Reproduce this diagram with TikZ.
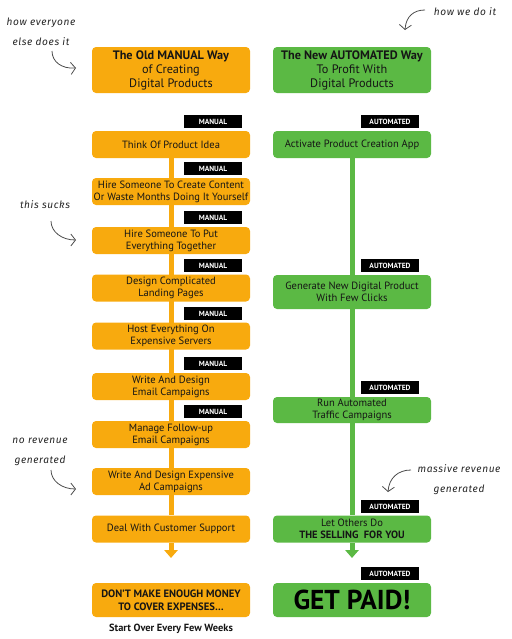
\documentclass[tikz,border=0pt]{standalone}
\usepackage{fontspec}
\setmainfont{PT Sans}
\newfontfamily\handfont[LetterSpace=6]{Fira Sans}
\usetikzlibrary{arrows.meta,backgrounds}

\definecolor{oldorange}{HTML}{F8AA0E}
\definecolor{newgreen}{HTML}{5BB944}
\definecolor{boxtext}{HTML}{151515}

\tikzset{
  oldbox/.style={fill=oldorange, rounded corners=3pt, minimum width=118.5pt,
    minimum height=20.25pt, align=center, text=boxtext, inner sep=1pt,
    font=\fontsize{7.9}{9}\selectfont},
  newbox/.style={oldbox, fill=newgreen},
  tagbox/.style={fill=black, text=white, anchor=south east, inner sep=0pt,
    minimum width=43.5pt, minimum height=9.8pt,
    font=\bfseries\fontsize{5.6}{6}\selectfont},
  oldflow/.style={draw=oldorange, line width=3.75pt},
  newflow/.style={oldflow, draw=newgreen},
  flowtip/.style={-{Triangle[length=6pt,width=10pt]}},
  handnote/.style={font=\handfont\itshape\fontsize{7.6}{15}\selectfont,
    text=black!85, align=center},
  handarrow/.style={draw=black!70, line width=0.6pt,
    -{Straight Barb[length=3.5pt,width=9pt]}},
}

\begin{document}
\begin{tikzpicture}[x=0.75pt,y=-0.75pt]

\useasboundingbox (0,0) rectangle (511,639);

% the old way
\node[oldbox, minimum height=34.5pt, font=\fontsize{9.2}{10.5}\selectfont] (oldtitle) at (171,70)
{\textbf{The Old MANUAL Way}\\of Creating\\Digital Products};

\node[oldbox] (think) at (171,144.5) {Think Of Product Idea};
\node[oldbox] (content) at (171,191.5) {Hire Someone To Create Content\\Or Waste Months Doing It Yourself};
\node[oldbox] (together) at (171,240.5) {Hire Someone To Put\\Everything Together};
\node[oldbox] (landing) at (171,288) {Design Complicated\\Landing Pages};
\node[oldbox] (host) at (171,336) {Host Everything On\\Expensive Servers};
\node[oldbox] (email) at (171,386.5) {Write And Design\\Email Campaigns};
\node[oldbox] (follow) at (171,434.5) {Manage Follow-up\\Email Campaigns};
\node[oldbox] (adcamp) at (171,481.5) {Write And Design Expensive\\Ad Campaigns};
\node[oldbox] (support) at (171,529) {Deal With Customer Support};

\node[oldbox, minimum height=25.5pt, font=\bfseries\fontsize{8}{9.5}\selectfont] (money) at (171,600)
{DON’T MAKE ENOUGH MONEY\\TO COVER EXPENSES…};
\node[font=\bfseries\fontsize{7.8}{9}\selectfont, text=boxtext] (startover) at (171,629)
{Start Over Every Few Weeks};

\foreach \b in {think,content,together,landing,host,email,follow}
{
\node[tagbox] at ([shift={(-8,-2)}]\b.north east) {MANUAL};
}

% the new way
\node[newbox, minimum height=34.5pt, font=\fontsize{9.2}{10.5}\selectfont] (newtitle) at (352,70)
{\textbf{The New AUTOMATED Way}\\To Profit With\\Digital Products};

\node[newbox] (activate) at (352,144.5) {Activate Product Creation App};
\node[newbox, minimum height=25.5pt] (generate) at (352,292) {Generate New Digital Product\\With Few Clicks};
\node[newbox, minimum height=19.5pt] (traffic) at (352,410) {Run Automated\\Traffic Campaigns};
\node[newbox] (others) at (352,529) {Let Others Do\\\textbf{THE SELLING\ \ FOR YOU}};
\node[newbox, minimum height=25.5pt, font=\bfseries\fontsize{20.5}{21}\selectfont, text=black] (paid) at (352,600)
{GET PAID!};

\foreach \b in {activate,generate,traffic,others,paid}
{
\node[tagbox] at ([shift={(-12,-2)}]\b.north east) {AUTOMATED};
}

% flow lines
\coordinate (oldend) at (171,558);
\coordinate (newend) at (352,558);

\begin{scope}[on background layer]
\draw[oldflow] (think) -- (support);
\draw[oldflow,flowtip] (support) -- (oldend);
\draw[newflow] (activate) -- (others);
\draw[newflow,flowtip] (others) -- (newend);
\end{scope}

% notes
\node[handnote] (n1) at (41,32) {how everyone\\else does it};
\coordinate (n1a) at (52,51);
\coordinate (n1b) at (76,68);
\draw[handarrow] (n1a) .. controls (52,62) and (62,69) .. (n1b);

\node[handnote] (n2) at (465,12) {how we do it};
\coordinate (n2a) at (425,10);
\coordinate (n2b) at (405,30);
\draw[handarrow] (n2a) .. controls (414,10) and (406,16) .. (n2b);

\node[handnote] (n3) at (45,205) {this sucks};
\coordinate (n3a) at (51,221);
\coordinate (n3b) at (76,240);
\draw[handarrow] (n3a) .. controls (51,232) and (62,240) .. (n3b);

\node[handnote] (n4) at (40,452) {no revenue\\generated};
\coordinate (n4a) at (51,470);
\coordinate (n4b) at (76,489);
\draw[handarrow] (n4a) .. controls (51,481) and (62,489) .. (n4b);

\node[handnote] (n5) at (459,480) {massive revenue\\generated};
\coordinate (n5a) at (411,470);
\coordinate (n5b) at (388,492);
\draw[handarrow] (n5a) .. controls (398,470) and (389,478) .. (n5b);

\end{tikzpicture}
\end{document}
